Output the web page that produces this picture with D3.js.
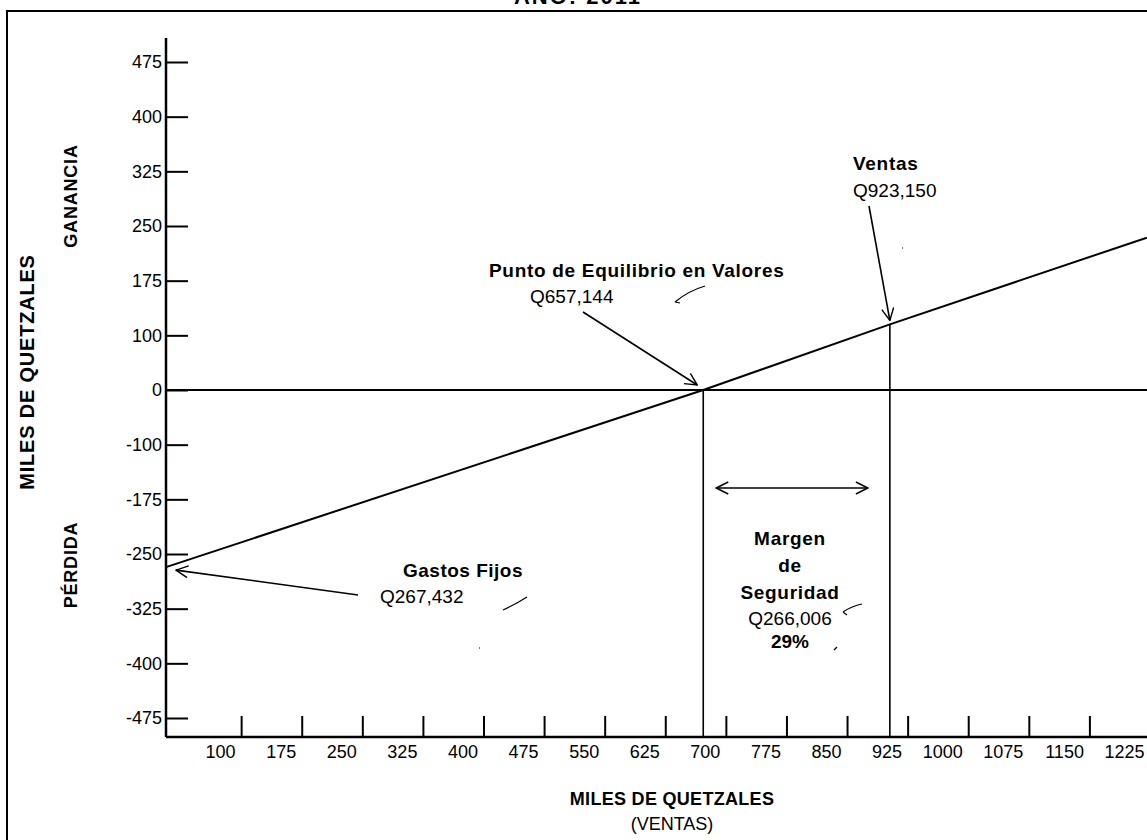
<!DOCTYPE html>
<html>
<head>
<meta charset="utf-8">
<script src="https://cdn.jsdelivr.net/npm/d3@7"></script>
<style>
  body { margin: 0; background: #fff; }
  text { font-family: "Liberation Sans", Arial, sans-serif; fill: #000; }
  .bold { font-weight: bold; }
</style>
</head>
<body>
<div id="chart"></div>
<script>
// Chart values (miles de quetzales)
var xTickValues = [100, 175, 250, 325, 400, 475, 550, 625, 700, 775, 850, 925, 1000, 1075, 1150, 1225];
var yTickValues = [475, 400, 325, 250, 175, 100, 0, -100, -175, -250, -325, -400, -475];

// result line: ventas -> ganancia / pérdida
var lineSales = [7, 672, 903, 1221];
var lineResult = [-268, 0, 115, 234];

var breakEvenSales = 672;
var actualSales = 903;

// axis extents
var xMin = 7, xMax = 1225;
var yTop = 508, yBottom = -501;

// SVG area
var svgWidth = 1147;
var svgHeight = 840;

var svg = d3.select("#chart")
    .append("svg")
    .attr("width", svgWidth)
    .attr("height", svgHeight);

// outer frame
svg.append("rect")
    .attr("x", 7)
    .attr("y", 11)
    .attr("width", svgWidth + 20)
    .attr("height", svgHeight + 20)
    .attr("fill", "none")
    .attr("stroke", "#000")
    .attr("stroke-width", 2);

// title (cut off at the top edge, as on the scanned page)
svg.append("text")
    .attr("class", "bold")
    .attr("x", 578)
    .attr("y", 4)
    .attr("text-anchor", "middle")
    .attr("font-size", "22px")
    .attr("letter-spacing", "2px")
    .text("AÑO: 2011");

// scales
var xScale = d3.scaleLinear()
    .domain([xMin, xMax])
    .range([166, 1150]);

// y ticks are evenly spaced on the page, so a piecewise scale
var yStep = (718 - 62) / (yTickValues.length - 1);
var yScale = d3.scaleLinear()
    .domain(yTickValues)
    .range(yTickValues.map((d, i) => 62 + i * yStep));

var x0 = xScale(xMin);
var yAxisBottom = yScale(yBottom);

// marker for open arrow heads
var defs = svg.append("defs");
defs.append("marker")
    .attr("id", "arrow")
    .attr("viewBox", "0 0 14 14")
    .attr("refX", 13)
    .attr("refY", 7)
    .attr("markerWidth", 14)
    .attr("markerHeight", 14)
    .attr("markerUnits", "userSpaceOnUse")
    .attr("orient", "auto-start-reverse")
    .append("path")
    .attr("d", "M1,1 L13,7 L1,13")
    .attr("fill", "none")
    .attr("stroke", "#000")
    .attr("stroke-width", 1.4);

// y axis
var leftAxis = d3.axisLeft(yScale)
    .tickValues(yTickValues)
    .tickFormat(d => String(d))
    .tickSize(-22)
    .tickPadding(4)
    .tickSizeOuter(0);

var yAxisG = svg.append("g")
    .attr("transform", `translate(${x0}, 0)`)
    .call(leftAxis);
yAxisG.select(".domain").remove();
yAxisG.selectAll("line").attr("stroke", "#000").attr("stroke-width", 2);
yAxisG.selectAll("text")
    .attr("font-size", "18px")
    .attr("font-family", "Liberation Sans, Arial, sans-serif")
    .attr("fill", "#000");

// x axis, labels sit just left of each tick
var bottomAxis = d3.axisBottom(xScale)
    .tickValues(xTickValues)
    .tickFormat(d => String(d))
    .tickSize(-21)
    .tickPadding(8)
    .tickSizeOuter(0);

var xAxisG = svg.append("g")
    .attr("transform", `translate(0, ${yAxisBottom})`)
    .call(bottomAxis);
xAxisG.select(".domain").remove();
xAxisG.selectAll("line").attr("stroke", "#000").attr("stroke-width", 2);
xAxisG.selectAll("text")
    .attr("text-anchor", "end")
    .attr("dx", -6)
    .attr("font-size", "18px")
    .attr("font-family", "Liberation Sans, Arial, sans-serif")
    .attr("fill", "#000");

// axis lines
svg.append("line")
    .attr("x1", x0).attr("x2", x0)
    .attr("y1", yScale(yTop)).attr("y2", yAxisBottom)
    .attr("stroke", "#000").attr("stroke-width", 2.5);

svg.append("line")
    .attr("x1", x0).attr("x2", svgWidth)
    .attr("y1", yAxisBottom).attr("y2", yAxisBottom)
    .attr("stroke", "#000").attr("stroke-width", 2.5);

// zero line
svg.append("line")
    .attr("x1", x0).attr("x2", svgWidth)
    .attr("y1", yScale(0)).attr("y2", yScale(0))
    .attr("stroke", "#000").attr("stroke-width", 2);

// result line
var lineData = lineSales.map((d, i) => [d, lineResult[i]]);
var resultLine = d3.line()
    .x(d => xScale(d[0]))
    .y(d => yScale(d[1]));

svg.append("path")
    .datum(lineData)
    .attr("d", resultLine)
    .attr("fill", "none")
    .attr("stroke", "#000")
    .attr("stroke-width", 2);

// vertical lines at break-even and sales
var salesAtResult = d3.scaleLinear().domain(lineSales).range(lineResult);

[breakEvenSales, actualSales].forEach(function (s) {
    svg.append("line")
        .attr("x1", xScale(s)).attr("x2", xScale(s))
        .attr("y1", yScale(salesAtResult(s))).attr("y2", yAxisBottom)
        .attr("stroke", "#000").attr("stroke-width", 1.6);
});

// annotations
function addText(x, y, txt, bold, anchor, size, spacing) {
    return svg.append("text")
        .attr("class", bold ? "bold" : null)
        .attr("x", x)
        .attr("y", y)
        .attr("text-anchor", anchor || "start")
        .attr("font-size", (size || 19) + "px")
        .attr("letter-spacing", spacing || 0)
        .text(txt);
}

function addArrow(x1, y1, x2, y2, both) {
    var a = svg.append("line")
        .attr("x1", x1).attr("y1", y1)
        .attr("x2", x2).attr("y2", y2)
        .attr("stroke", "#000")
        .attr("stroke-width", 1.6)
        .attr("marker-end", "url(#arrow)");
    if (both) a.attr("marker-start", "url(#arrow)");
    return a;
}

// break-even
var beX = xScale(breakEvenSales), beY = yScale(0);
addText(489, 277, "Punto de Equilibrio en Valores", true, "start", 19, "0.7px");
addText(530, 303, "Q657,144", false, "start", 19);
addArrow(583, 312, beX - 6, beY - 5);

// sales
var sX = xScale(actualSales), sY = yScale(salesAtResult(actualSales));
addText(853, 170, "Ventas", true, "start", 19, "0.7px");
addText(853, 197, "Q923,150", false, "start", 19);
addArrow(869, 206, sX, sY - 4);

// fixed costs
var fX = xScale(xMin), fY = yScale(lineResult[0]);
addText(403, 577, "Gastos Fijos", true, "start", 19, "0.5px");
addText(380, 603, "Q267,432", false, "start", 19);
addArrow(358, 595, fX + 10, fY + 3);

// margin of safety
addArrow(beX + 13, 488, sX - 22, 488, true);
var mX = 790;
addText(mX, 545, "Margen", true, "middle", 19, "0.7px");
addText(mX, 572, "de", true, "middle", 19, "0.7px");
addText(mX, 599, "Seguridad", true, "middle", 19, "0.7px");
addText(mX, 625, "Q266,006", false, "middle", 19);
addText(mX, 648, "29%", true, "middle", 19);

// axis titles
svg.append("text")
    .attr("class", "bold")
    .attr("transform", "translate(34, 372) rotate(-90)")
    .attr("text-anchor", "middle")
    .attr("font-size", "20px")
    .attr("letter-spacing", "0.8px")
    .text("MILES DE QUETZALES");

svg.append("text")
    .attr("class", "bold")
    .attr("transform", "translate(77, 196) rotate(-90)")
    .attr("text-anchor", "middle")
    .attr("font-size", "18px")
    .attr("letter-spacing", "0.8px")
    .text("GANANCIA");

svg.append("text")
    .attr("class", "bold")
    .attr("transform", "translate(77, 565) rotate(-90)")
    .attr("text-anchor", "middle")
    .attr("font-size", "18px")
    .attr("letter-spacing", "0.8px")
    .text("PÉRDIDA");

addText(672, 805, "MILES DE QUETZALES", true, "middle", 18, "0.3px");
addText(672, 830, "(VENTAS)", false, "middle", 18);

// pen marks on the sheet
var marks = [
    "M675,302 Q688,291 705,286 M675,302 l5,1",
    "M503,610 Q516,604 527,597",
    "M843,612 Q852,606 862,604 M843,612 l4,3",
    "M834,650 l3,-3",
    "M479,648 l1,0",
    "M902,248 l1,0"
];
svg.selectAll(".mark")
    .data(marks)
    .enter()
    .append("path")
    .attr("class", "mark")
    .attr("d", d => d)
    .attr("fill", "none")
    .attr("stroke", "#000")
    .attr("stroke-width", 1.2);
</script>
</body>
</html>
